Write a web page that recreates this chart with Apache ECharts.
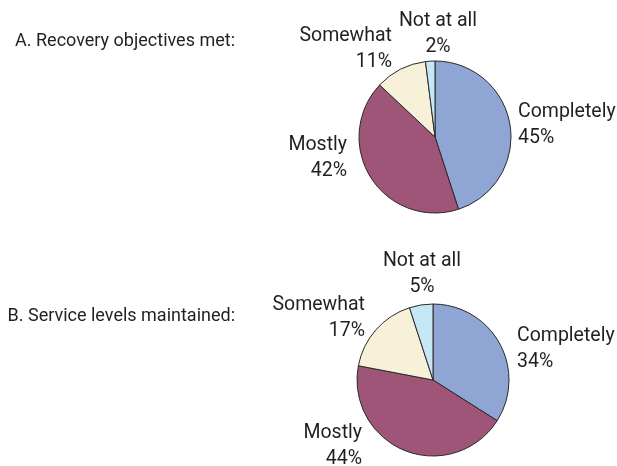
<!DOCTYPE html>
<html>
<head>
<meta charset="utf-8">
<script src="https://cdn.jsdelivr.net/npm/echarts@6/dist/echarts.min.js"></script>
<style>
html,body{margin:0;padding:0;background:#fff;}
#chart{width:617px;height:466px;}
</style>
</head>
<body>
<div id="chart"></div>
<script>
// ---- data ----
var categories = ['Completely', 'Mostly', 'Somewhat', 'Not at all'];
var recoveryValues = [45, 42, 11, 2];
var serviceValues = [34, 44, 17, 5];
var panelTitles = ['A. Recovery objectives met:', 'B. Service levels maintained:'];

// ---- styles / layout ----
var colors = ['#8fa5d4', '#9e5577', '#f6f1d8', '#c6e8f6'];
var FONT = "Roboto, 'Open Sans', sans-serif";
var TEXT = '#231f20';
// label anchor positions per panel (x, y, align)
var labelPos = [
  [[518, 125, 'left'], [347, 158, 'right'], [392, 49, 'right'], [438, 34, 'center']],
  [[517, 349, 'left'], [362, 446, 'right'], [365, 318, 'right'], [422, 274, 'center']]
];
var pieCenters = [[435, 137], [433, 380]];
var titleY = [41, 316];

function makeSeries(values, idx) {
  return {
    type: 'pie',
    center: pieCenters[idx],
    radius: 76,
    startAngle: 90,
    clockwise: true,
    animation: false,
    silent: true,
    data: categories.map(function (c, i) {
      return { name: c, value: values[i], itemStyle: { color: colors[i] } };
    }),
    itemStyle: { borderColor: '#2a2a2a', borderWidth: 1 },
    label: {
      show: true,
      position: 'outside',
      formatter: '{b}\n{c}%',
      fontFamily: FONT,
      fontSize: 19.5,
      lineHeight: 26,
      color: TEXT,
      overflow: 'none'
    },
    labelLine: { show: false },
    labelLayout: function (p) {
      var lp = labelPos[idx][p.dataIndex];
      return { x: lp[0], y: lp[1], align: lp[2], verticalAlign: 'middle' };
    },
    emphasis: { disabled: true }
  };
}

var chart = echarts.init(document.getElementById('chart'), null, { renderer: 'canvas' });
chart.setOption({
  backgroundColor: '#ffffff',
  animation: false,
  graphic: panelTitles.map(function (t, i) {
    return {
      type: 'text',
      x: 235,
      y: titleY[i],
      style: {
        text: t,
        fontFamily: FONT,
        fontSize: 18,
        fill: TEXT,
        align: 'right',
        verticalAlign: 'middle'
      }
    };
  }),
  series: [makeSeries(recoveryValues, 0), makeSeries(serviceValues, 1)]
});
</script>
</body>
</html>
